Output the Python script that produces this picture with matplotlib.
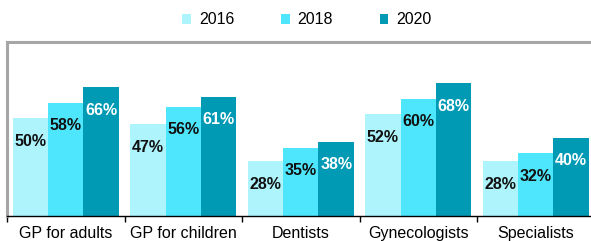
import matplotlib
matplotlib.use("Agg")
import matplotlib.pyplot as plt
import numpy as np

categories = ["GP for adults", "GP for children", "Dentists", "Gynecologists", "Specialists"]
years = ["2016", "2018", "2020"]
v2016 = [50, 47, 28, 52, 28]
v2018 = [58, 56, 35, 60, 32]
v2020 = [66, 61, 38, 68, 40]
series = [v2016, v2018, v2020]
colors = ["#aef4fc", "#4de6fc", "#009ab5"]
label_colors = ["#111111", "#111111", "#ffffff"]

plt.rcParams['font.family'] = ['Liberation Sans', 'DejaVu Sans']

fig = plt.figure(figsize=(5.91, 2.41), dpi=100)
ax = fig.add_axes([7/591, 25/241, 587.5/591, 174.5/241])

x = np.arange(len(categories))
w = 0.302
for i, (vals, c, lc, yr) in enumerate(zip(series, colors, label_colors, years)):
    pos = x + (i - 1) * w
    bars = ax.bar(pos, vals, width=w, color=c, label=yr, zorder=2)
    for b, v in zip(bars, vals):
        ax.annotate(f"{v}%", (b.get_x() + b.get_width() / 2, v),
                    xytext=(0, -23), textcoords="offset pixels",
                    ha="center", va="center", fontsize=11.5, fontweight="bold",
                    color=lc, zorder=3)

ax.set_xlim(-0.5, len(categories) - 0.5)
ax.set_ylim(0, 89.3)
ax.set_yticks([])
ax.set_xticks(np.arange(len(categories) + 1) - 0.5)
ax.set_xticklabels([])
ax.set_xticks(x, minor=True)
ax.set_xticklabels(categories, minor=True, fontsize=11.5)
ax.tick_params(axis="x", which="major", length=4, width=1, color="black", direction="out")
ax.tick_params(axis="x", which="minor", length=0, pad=7)

for s in ["top", "left", "right"]:
    ax.spines[s].set_color("#a6a6a6")
    ax.spines[s].set_linewidth(2.2)
ax.spines["bottom"].set_color("black")
ax.spines["bottom"].set_linewidth(1)

leg = fig.legend(loc="center", bbox_to_anchor=(307/591, 1 - 20/241), ncol=3, frameon=False,
                 fontsize=11.5, handlelength=0.55, handleheight=0.55, handletextpad=0.5,
                 columnspacing=2.9)

fig.savefig("out.png", dpi=100)
